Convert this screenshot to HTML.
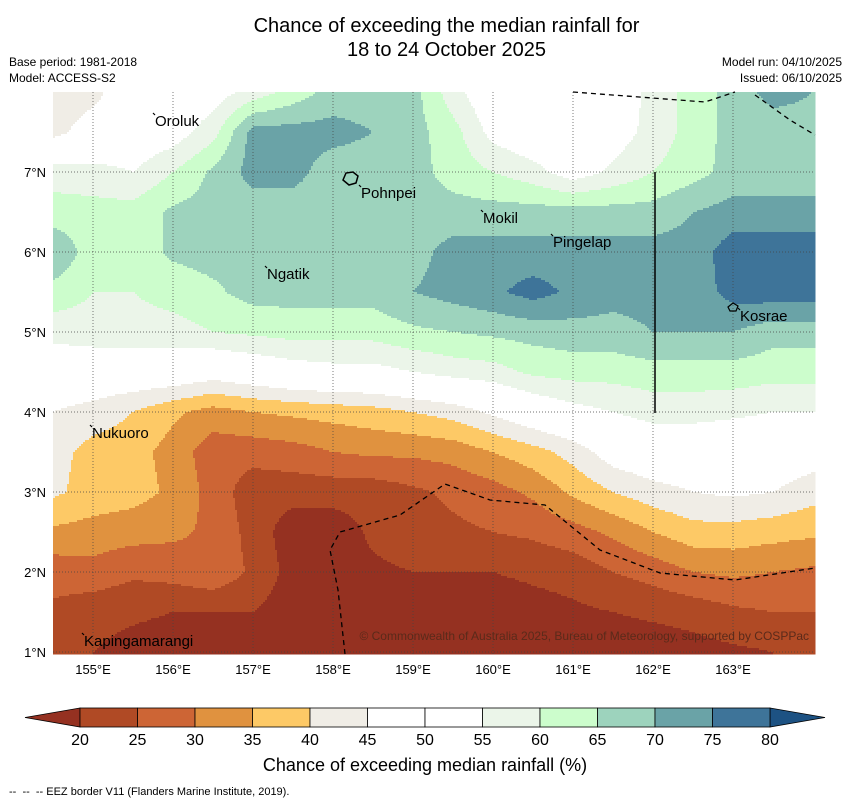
<!DOCTYPE html>
<html><head><meta charset="utf-8"><style>
body{margin:0;background:#fff;font-family:"Liberation Sans",sans-serif;}
#wrap{position:relative;width:850px;height:804px;overflow:hidden;background:#fff}
.t{position:absolute;white-space:nowrap;color:#000}
</style></head><body>
<div id="wrap">
<div class="t" style="left:0;width:893px;top:14px;font-size:20px;text-align:center;line-height:24px">Chance of exceeding the median rainfall for<br>18 to 24 October 2025</div>
<div class="t" style="left:9px;top:55px;font-size:12px">Base period: 1981-2018</div>
<div class="t" style="left:9px;top:71px;font-size:12px">Model: ACCESS-S2</div>
<div class="t" style="right:8px;top:55px;font-size:12px">Model run: 04/10/2025</div>
<div class="t" style="right:8px;top:71px;font-size:12px">Issued: 06/10/2025</div>
<svg id="svg" width="850" height="804" style="position:absolute;left:0;top:0"></svg>
<div class="t" style="left:0;width:850px;text-align:center;top:755px;font-size:18px">Chance of exceeding median rainfall (%)</div>
<div class="t" style="left:9px;top:786px;font-size:11px">-- &nbsp;-- &nbsp;-- EEZ border V11 (Flanders Marine Institute, 2019).</div>
</div>
<script>
const lons=[154.5,155,155.5,156,156.5,157,157.5,158,158.5,159,159.5,160,160.5,161,161.5,162,162.5,163,163.5,164];
const lats=[8,7.5,7,6.5,6,5.5,5,4.5,4,3.5,3,2.5,2,1.5,1];
const values=[
[42,43,50,50,52,57,62,67,67,67,57,50,50,50,50,57,62,67,72,70],
[43,48,50,52,58,72,72,72,70,67,62,53,50,50,52,57,62,67,67,68],
[58,57,55,60,66,72,72,67,67,67,63,60,57,52,56,60,63,67,67,67],
[62,62,62,66,67,67,67,67,67,67,67,67,67,67,67,67,70,72,72,72],
[70,62,62,66,67,67,67,67,67,68,72,72,72,72,72,72,72,78,78,78],
[63,60,60,62,64,67,67,67,67,70,72,74,77,74,72,72,72,77,78,78],
[57,58,58,58,60,61,62,62,62,64,65,66,67,68,68,70,70,70,67,67],
[50,50,50,50,48,50,52,53,53,55,57,58,61,62,62,63,63,63,62,62],
[45,43,40,36,33,35,36,37,38,40,42,46,50,53,55,57,57,56,55,55],
[42,38,37,33,27,27,28,30,31,31,32,35,38,42,48,50,50,50,50,48],
[41,38,37,34,28,22,22,22,22,24,26,28,31,36,40,43,45,46,45,42],
[34,33,32,31,29,23,17,17,21,23,24,25,26,28,31,35,38,38,37,36],
[27,28,26,27,29,24,18,17,19,20,20,20,21,22,25,27,30,31,30,29],
[24,22,21,20,20,20,17,16,17,17,17,17,18,19,20,21,22,24,25,25],
[23,20,18,17,17,17,17,17,17,17,17,17,17,17,17,17,18,19,20,20]];
const levels=[20,25,30,35,40,45,50,55,60,65,70,75,80];
const colors=['#953121','#b04a25','#cd6535','#e0923f','#fdc966','#f0ede6','#ffffff','#ffffff','#ebf5e9','#ccfdcc','#9dd3bd','#6aa3a7','#3e7499','#1d5283'];
const lonTicks=[155,156,157,158,159,160,161,162,163];
const latTicks=[1,2,3,4,5,6,7];
const islands=["Oroluk","Pohnpei","Mokil","Pingelap","Ngatik","Kosrae","Nukuoro","Kapingamarangi"];
const X0=53,Y0=92,S=80;
const px=l=>X0+(l-154.5)*S, py=a=>Y0+(8-a)*S;
const NS='http://www.w3.org/2000/svg';
const svg=document.getElementById('svg');
function mk(t,a,p){const e=document.createElementNS(NS,t);for(const k in a)e.setAttribute(k,a[k]);(p||svg).appendChild(e);return e;}
function val(lon,lat){
 let fi=(lon-lons[0])/0.5, fj=(lats[0]-lat)/0.5;
 fi=Math.max(0,Math.min(lons.length-1.0001,fi)); fj=Math.max(0,Math.min(lats.length-1.0001,fj));
 const i=Math.floor(fi),j=Math.floor(fj),u=fi-i,v=fj-j;
 return values[j][i]*(1-u)*(1-v)+values[j][i+1]*u*(1-v)+values[j+1][i]*(1-u)*v+values[j+1][i+1]*u*v;
}
function col(v){let k=0;while(k<levels.length&&v>=levels[k])k++;return colors[k];}
const g=mk('g',{});


const st=2, W=762, H=562;
for(let y=0;y<H;y+=st){let run=null,rx=0;
 for(let x=0;x<=W;x+=st){
  const c=x<W?col(val(154.5+(x+st/2)/S,8-(y+st/2)/S)):null;
  if(c!==run){if(run){const r=mk('rect',{x:X0+rx,y:Y0+y,width:Math.min(x,W)-rx+0.5,height:st+0.5,fill:run},g);}run=c;rx=x;}
 }}
lonTicks.forEach(l=>{const ln=mk('line',{x1:px(l),x2:px(l),y1:Y0,y2:Y0+H,stroke:'#444','stroke-width':0.7,'stroke-dasharray':'1,2'});
 const t=mk('text',{x:px(l),y:674,'font-size':13,'text-anchor':'middle','font-family':'Liberation Sans'});t.textContent=l+'°E';});
latTicks.forEach(a=>{const ln=mk('line',{x1:X0,x2:X0+W,y1:py(a),y2:py(a),stroke:'#444','stroke-width':0.7,'stroke-dasharray':'1,2'});
 const t=mk('text',{x:46,y:py(a)+5,'font-size':13,'text-anchor':'end','font-family':'Liberation Sans'});t.textContent=a+'°N';});
const e1=mk('polyline',{points:'573,92 705,102 735,92',fill:'none',stroke:'#000','stroke-width':1.3,'stroke-dasharray':'5,4'});
const e2=mk('polyline',{points:'755,95 790,120 815,135',fill:'none',stroke:'#000','stroke-width':1.3,'stroke-dasharray':'5,4'});
const e3=mk('polyline',{points:'345,654 338,590 330,550 340,532 400,515 445,484 490,500 545,505 600,550 660,573 735,580 815,568',fill:'none',stroke:'#000','stroke-width':1.3,'stroke-dasharray':'5,4'});
const vl=mk('line',{x1:655,x2:655,y1:172,y2:413,stroke:'#000','stroke-width':1.5});
const pp=mk('path',{d:'M343,180 l3,-7 l7,-1 l5,4 l-2,7 l-7,2z',fill:'none',stroke:'#000','stroke-width':1.5});
const kp=mk('path',{d:'M728,307 l5,-4 l5,3 l-2,5 l-6,0z',fill:'none',stroke:'#000','stroke-width':1.2});
const labelPos=[[155,126],[361,198],[483,223],[553,247],[267,279],[740,321],[92,438],[84,646]];
islands.forEach((d,i)=>{const t=mk('text',{x:labelPos[i][0],y:labelPos[i][1],'font-size':15,'font-family':'Liberation Sans'});t.textContent=d;
 const m=mk('line',{x1:labelPos[i][0]-2,y1:labelPos[i][1]-13,x2:labelPos[i][0],y2:labelPos[i][1]-11,stroke:'#000','stroke-width':1.2});});
const cp=mk('text',{x:809,y:640,'font-size':12,'text-anchor':'end','fill':'#5a2a1a','font-family':'Liberation Sans'});cp.textContent='© Commonwealth of Australia 2025, Bureau of Meteorology, supported by COSPPac';
const cb=mk('g',{});
const cx0=80,cw=(770-80)/12,cy=708,ch=19;
const lt=mk('polygon',{points:`${cx0},${cy} 25,${cy+ch/2} ${cx0},${cy+ch}`,fill:colors[0],stroke:'#000','stroke-width':0.8},cb);
const rt=mk('polygon',{points:`770,${cy} 825,${cy+ch/2} 770,${cy+ch}`,fill:colors[13],stroke:'#000','stroke-width':0.8},cb);
for(let k=0;k<12;k++){const r=mk('rect',{x:cx0+k*cw,y:cy,width:cw,height:ch,fill:colors[k+1],stroke:'#000','stroke-width':0.8},cb);}
levels.forEach((l,k)=>{const t=mk('text',{x:cx0+k*cw,y:745,'font-size':16,'text-anchor':'middle','font-family':'Liberation Sans'},cb);t.textContent=l;});
</script>
</body></html>
